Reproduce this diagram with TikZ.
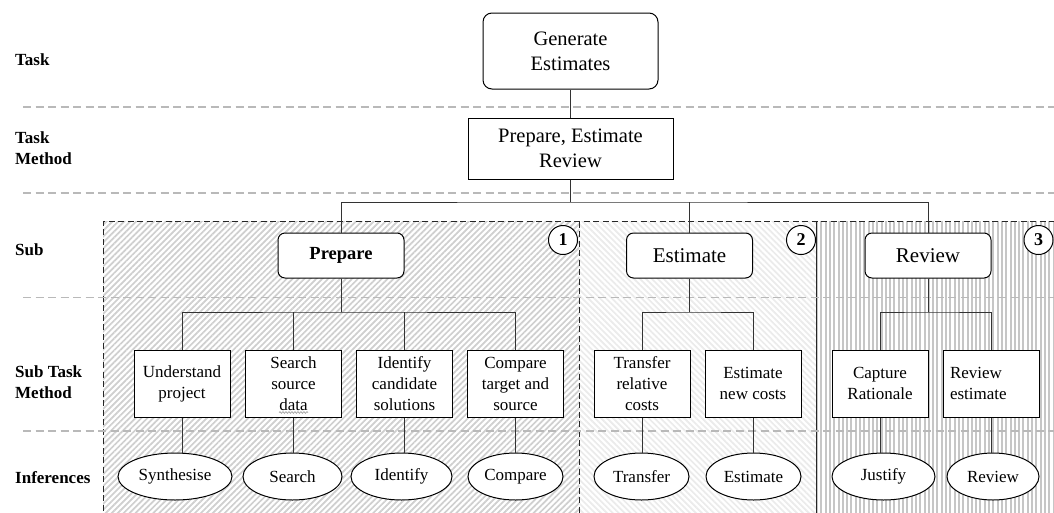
\documentclass[tikz,border=0pt]{standalone}
\usepackage{fontspec}
\setmainfont{Liberation Serif}
\usetikzlibrary{patterns.meta,shapes.geometric,decorations.pathmorphing}

\begin{document}
\begin{tikzpicture}[x=1pt,y=-1pt,
  conn/.style={draw=black!80, line width=1pt},
  lvl/.style={draw=gray!55, line width=1.2pt, dash pattern=on 8pt off 4.5pt},
  zone/.style={draw=black!85, line width=1pt, dash pattern=on 6pt off 3.5pt},
  rowlabel/.style={anchor=west, align=left, inner sep=0pt, font=\fontsize{17}{21}\selectfont\bfseries},
  topbox/.style={draw, fill=white, line width=1pt, align=center, inner sep=0pt, font=\fontsize{20.5}{25}\selectfont},
  subbox/.style={draw, fill=white, rounded corners=7pt, line width=1pt, minimum width=126pt, minimum height=45pt, inner sep=0pt, font=\fontsize{21}{25}\selectfont},
  stm/.style={draw, fill=white, line width=1pt, minimum width=96pt, minimum height=67pt, inner sep=0pt, align=center, font=\fontsize{17}{21}\selectfont},
  inf/.style={draw, fill=white, ellipse, line width=1pt, minimum height=47pt, inner sep=0pt, font=\fontsize{17}{21}\selectfont},
  num/.style={draw, fill=white, circle, line width=1pt, minimum size=29pt, inner sep=0pt, font=\fontsize{18}{20}\selectfont\bfseries},
]
\clip (0,0) rectangle (1054,512);
\fill[white] (0,0) rectangle (1054,512);

% hatched zones
\fill[pattern={Lines[angle=45,distance=4.2pt,line width=1.7pt]}, pattern color=gray!38]
  (103,221.5) rectangle (579,520);
\fill[pattern={Lines[angle=-45,distance=4.2pt,line width=1.7pt]}, pattern color=gray!16]
  (579,221.5) rectangle (816.5,520);
\fill[pattern={Lines[angle=90,distance=4.3pt,line width=2pt]}, pattern color=gray!45]
  (816.5,221.5) rectangle (1060,520);
\draw[zone] (103,520) -- (103,221.5) -- (1060,221.5);
\draw[zone] (579,221.5) -- (579,520);
\draw[black!85, line width=1pt] (816.5,221.5) -- (816.5,520);

% level separators
\foreach \yy in {107,193,297.5,431}
  \draw[lvl] (23,\yy) -- (1054,\yy);

% row labels
\node[rowlabel] (lt)  at (15,60)    {Task};
\node[rowlabel] (ltm) at (15,148.5) {Task\\Method};
\node[rowlabel] (ls)  at (15,250)   {Sub};
\node[rowlabel] (lst) at (15,382.5) {Sub Task\\Method};
\node[rowlabel] (li)  at (15,478)   {Inferences};

% task and task method
\node[topbox, rounded corners=9pt, minimum width=175pt, minimum height=76pt] (gen) at (570.5,51) {Generate\\Estimates};
\node[topbox, minimum width=205pt, minimum height=61pt] (per) at (570.5,148.5) {Prepare, Estimate\\Review};
\coordinate (hub) at (570.5,202);

% sub tasks
\node[subbox, font=\fontsize{18.5}{22}\selectfont\bfseries] (prep) at (341,255.5) {Prepare};
\node[subbox] (est) at (689.5,255.5) {Estimate};
\node[subbox] (rev) at (928,255.5) {Review};

\node[num] (n1) at (563,240) {1};
\node[num] (n2) at (801,240) {2};
\node[num] (n3) at (1038.5,240) {3};

% sub task methods
\node[stm] (und) at (182,383.5)   {Understand\\project};
\node[stm] (src) at (293.5,383.5) {Search\\source\\data};
\node[stm] (idf) at (404.5,383.5) {Identify\\candidate\\solutions};
\node[stm] (cmp) at (515.5,383.5) {Compare\\target and\\source};
\node[stm] (tra) at (642,383.5)   {Transfer\\relative\\costs};
\node[stm] (enc) at (753,383.5)   {Estimate\\new costs};
\node[stm] (cap) at (880,383.5)   {Capture\\Rationale};
\node[stm, align=left, text width=82pt] (rve) at (991,383.5) {Review\\estimate};
\coordinate (pbus) at (341,312);
\coordinate (ebus) at (689.5,312);
\coordinate (rbus) at (928,312);

% spelling squiggle under "data"
\draw[gray!70, line width=0.7pt, decorate, decoration={snake, amplitude=0.9pt, segment length=3pt}]
  (279,412.5) -- (308,412.5);

% inferences
\node[inf, minimum width=114pt] (syn) at (175,476.5)   {Synthesise};
\node[inf, minimum width=99pt]  (sea) at (292.5,476.5) {Search};
\node[inf, minimum width=101pt] (ide) at (401.5,476.5) {Identify};
\node[inf, minimum width=95pt]  (com) at (515.5,476.5) {Compare};
\node[inf, minimum width=95pt]  (trf) at (641.5,476.5) {Transfer};
\node[inf, minimum width=95pt]  (esi) at (753.5,476.5) {Estimate};
\node[inf, minimum width=103pt] (jus) at (883.5,476.5) {Justify};
\node[inf, minimum width=92pt]  (rvw) at (993,476.5)   {Review};

% connectors
\draw[conn] (gen.south) -- (per.north);
\draw[conn] (per.south) -- (hub);
\draw[conn] (prep.north) |- (hub) -| (rev.north);
\draw[conn] (est.north) -- (est.north |- hub);

\draw[conn] (prep.south) -- (pbus);
\draw[conn] (und.north) |- (pbus) -| (cmp.north);
\draw[conn] (src.north) -- (src.north |- pbus);
\draw[conn] (idf.north) -- (idf.north |- pbus);

\draw[conn] (est.south) -- (ebus);
\draw[conn] (tra.north) |- (ebus) -| (enc.north);

\draw[conn] (rev.south) -- (rbus);
\draw[conn] (cap.north) |- (rbus) -| (rve.north);

\draw[conn] (und.south) -- (und.south |- syn.north);
\draw[conn] (src.south) -- (src.south |- sea.north);
\draw[conn] (idf.south) -- (idf.south |- ide.north);
\draw[conn] (cmp.south) -- (cmp.south |- com.north);
\draw[conn] (tra.south) -- (tra.south |- trf.north);
\draw[conn] (enc.south) -- (enc.south |- esi.north);
\draw[conn] (cap.south) -- (cap.south |- jus.north);
\draw[conn] (rve.south) -- (rve.south |- rvw.north);
\end{tikzpicture}
\end{document}
